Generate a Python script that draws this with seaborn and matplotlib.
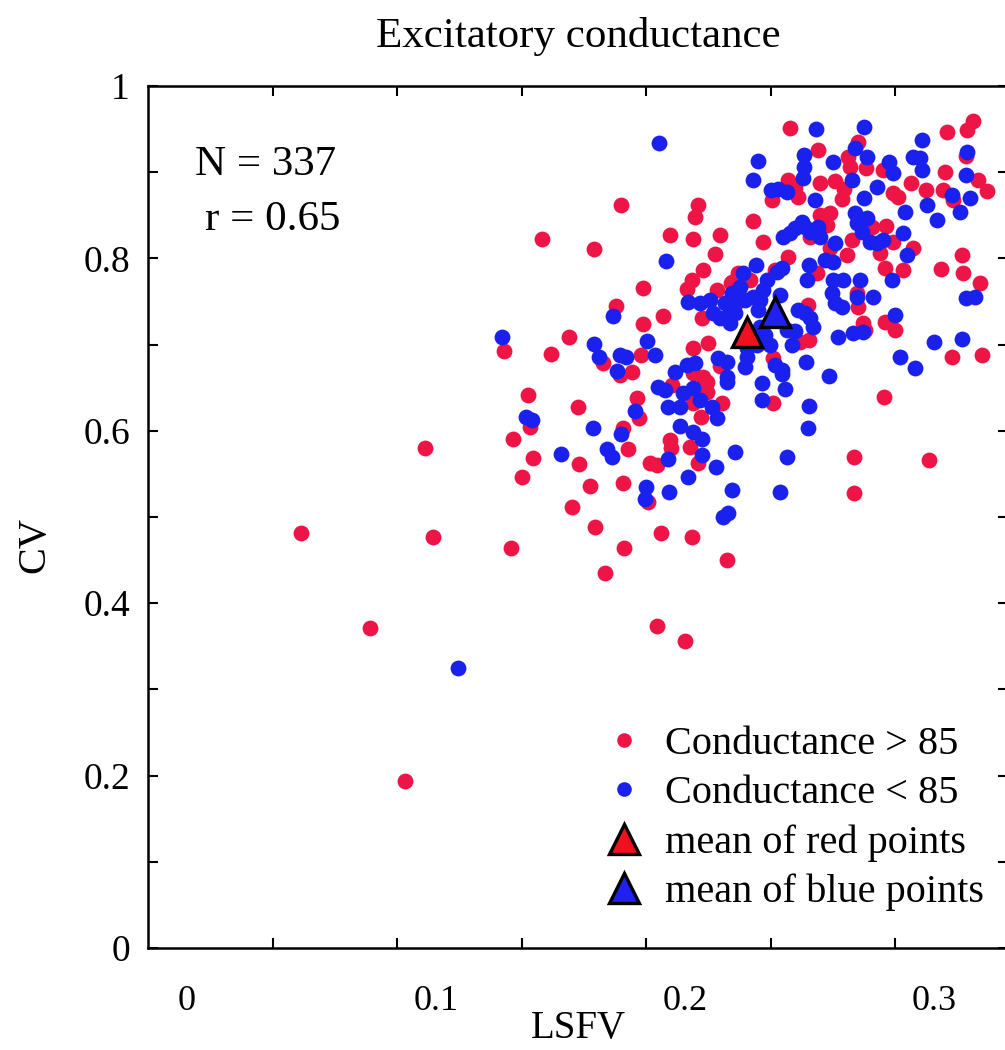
import matplotlib
matplotlib.use("Agg")
import matplotlib.pyplot as plt
from matplotlib.lines import Line2D
import seaborn as sns

# LSFV / CV values for cells with conductance > 85 (red)
red_lsfv = [0.1743, 0.2052, 0.2040, 0.1426, 0.1635, 0.1940, 0.2032, 0.2140, 0.2120, 0.2072,
            0.2028, 0.2008, 0.2129, 0.2185, 0.2213, 0.1831, 0.2068, 0.1723, 0.1831, 0.1912,
            0.1273, 0.1534, 0.1462, 0.1823, 0.2032, 0.2092, 0.1670, 0.1739, 0.1787, 0.2140,
            0.2032, 0.2072, 0.2088, 0.1948, 0.2088, 0.2149, 0.2032, 0.2064, 0.2020, 0.1940,
            0.1944, 0.2052, 0.1859, 0.1888, 0.1807, 0.1815, 0.1370, 0.1570, 0.1378, 0.1751,
            0.1309, 0.1390, 0.1771, 0.1574, 0.1345, 0.1618, 0.1751, 0.1851, 0.1546, 0.1639,
            0.1904, 0.2028, 0.1301, 0.1755, 0.1679, 0.2169, 0.2422, 0.2695, 0.2727, 0.2534,
            0.2655, 0.2414, 0.2442, 0.2349, 0.2454, 0.2542, 0.2602, 0.2639, 0.2631, 0.2663,
            0.2795, 0.2835, 0.2855, 0.2908, 0.2807, 0.2916, 0.2968, 0.3044, 0.3052, 0.3133,
            0.3157, 0.3129, 0.3177, 0.3213, 0.3036, 0.3076, 0.3112, 0.3028, 0.3116, 0.3185,
            0.3072, 0.3193, 0.2273, 0.2313, 0.2502, 0.2542, 0.2582, 0.2570, 0.2751, 0.2671,
            0.2835, 0.2582, 0.2651, 0.2783, 0.2803, 0.2876, 0.2414, 0.2361, 0.2530, 0.2691,
            0.2695, 0.2803, 0.2843, 0.2715, 0.2723, 0.2498, 0.2494, 0.2462, 0.2261, 0.2189,
            0.2209, 0.2353, 0.2353, 0.2799, 0.2679, 0.2980, 0.2679, 0.0956, 0.0458, 0.0988,
            0.0735, 0.0876, 0.1888, 0.2000]
red_cv = [0.862, 0.862, 0.848, 0.8225, 0.811, 0.827, 0.8225, 0.827, 0.805, 0.7865,
          0.775, 0.7645, 0.763, 0.771, 0.783, 0.7657, 0.731, 0.7448, 0.7239, 0.7332,
          0.6926, 0.7088, 0.689, 0.688, 0.696, 0.7019, 0.679, 0.6647, 0.6682, 0.675,
          0.667, 0.6624, 0.6566, 0.6531, 0.645, 0.6323, 0.6323, 0.616, 0.5812, 0.5893,
          0.58, 0.5626, 0.5626, 0.5603, 0.638, 0.6148, 0.6415, 0.6276, 0.6044, 0.6032,
          0.5905, 0.5684, 0.5789, 0.5615, 0.5464, 0.536, 0.5394, 0.5174, 0.5116, 0.4884,
          0.4814, 0.4768, 0.464, 0.464, 0.435, 0.4501, 0.9513, 0.935, 0.9049, 0.9258,
          0.9176, 0.891, 0.8817, 0.8677, 0.8712, 0.8875, 0.8898, 0.8805, 0.8689, 0.906,
          0.9026, 0.8759, 0.8712, 0.8875, 0.8376, 0.8121, 0.8794, 0.9002, 0.9466, 0.949,
          0.9594, 0.9188, 0.891, 0.8782, 0.8794, 0.8677, 0.8039, 0.7877, 0.783, 0.7715,
          0.6856, 0.688, 0.8434, 0.819, 0.8248, 0.8503, 0.8527, 0.8387, 0.8364, 0.8213,
          0.819, 0.8121, 0.8039, 0.8063, 0.7889, 0.7865, 0.8016, 0.7865, 0.783, 0.7599,
          0.7436, 0.7262, 0.7169, 0.7251, 0.7169, 0.7053, 0.7459, 0.703, 0.775, 0.7726,
          0.7494, 0.6845, 0.6323, 0.6392, 0.5696, 0.5661, 0.5278, 0.58, 0.4814, 0.4768,
          0.3712, 0.1937, 0.3735, 0.356]

# conductance < 85 (blue)
blue_lsfv = [0.1896, 0.1924, 0.2012, 0.2060, 0.2100, 0.2112, 0.2140, 0.2180, 0.2173, 0.2209,
             0.1711, 0.1265, 0.1635, 0.1847, 0.1655, 0.1739, 0.1763, 0.1880, 0.2133, 0.1727,
             0.1960, 0.2008, 0.2040, 0.1892, 0.1920, 0.1992, 0.2032, 0.2060, 0.2169, 0.2108,
             0.1932, 0.1980, 0.2129, 0.1980, 0.2032, 0.2068, 0.2068, 0.1932, 0.2124, 0.2201,
             0.1799, 0.1361, 0.1386, 0.1630, 0.1743, 0.1502, 0.1687, 0.1707, 0.1843, 0.1839,
             0.1936, 0.2012, 0.2189, 0.2173, 0.2153, 0.2526, 0.2719, 0.2683, 0.2731, 0.2594,
             0.2478, 0.2478, 0.2474, 0.2293, 0.2273, 0.2345, 0.2373, 0.2410, 0.2522, 0.2671,
             0.2719, 0.2771, 0.2819, 0.2835, 0.2884, 0.2876, 0.2892, 0.2952, 0.2916, 0.2944,
             0.2952, 0.3133, 0.3129, 0.3072, 0.3145, 0.2972, 0.3104, 0.3012, 0.3129, 0.3165,
             0.3000, 0.3112, 0.2394, 0.2422, 0.2442, 0.2470, 0.2482, 0.2502, 0.2534, 0.2542,
             0.2683, 0.2691, 0.2711, 0.2731, 0.2743, 0.2771, 0.2795, 0.2602, 0.2562, 0.2594,
             0.2831, 0.2498, 0.2285, 0.2390, 0.2369, 0.2490, 0.2594, 0.2635, 0.2703, 0.2590,
             0.2602, 0.2631, 0.2691, 0.2755, 0.2843, 0.2675, 0.2715, 0.2614, 0.2454, 0.2482,
             0.2502, 0.2514, 0.2410, 0.2442, 0.2430, 0.2329, 0.2313, 0.2233, 0.2221, 0.2189,
             0.2241, 0.2273, 0.2301, 0.2293, 0.2161, 0.2169, 0.2201, 0.2382, 0.2253, 0.2289,
             0.2341, 0.2301, 0.2321, 0.2249, 0.2249, 0.2241, 0.2361, 0.2390, 0.2169, 0.2169,
             0.2486, 0.2390, 0.2402, 0.2309, 0.2309, 0.2578, 0.2498, 0.2494, 0.2863, 0.2924,
             0.2410, 0.2382, 0.1088]
blue_cv = [0.934, 0.797, 0.7494, 0.748, 0.752, 0.7367, 0.731, 0.725, 0.7494, 0.752,
           0.7332, 0.7088, 0.7007, 0.7042, 0.6856, 0.688, 0.6856, 0.688, 0.6845, 0.6694,
           0.668, 0.6763, 0.6787, 0.6508, 0.6473, 0.6439, 0.6497, 0.6357, 0.6566, 0.6276,
           0.6276, 0.6276, 0.6148, 0.6056, 0.5986, 0.5905, 0.5719, 0.5673, 0.558, 0.5754,
           0.623, 0.616, 0.6125, 0.6032, 0.5963, 0.5731, 0.5789, 0.5696, 0.5348, 0.5209,
           0.529, 0.5464, 0.5313, 0.5046, 0.5, 0.9501, 0.9524, 0.928, 0.9176, 0.9118,
           0.92, 0.906, 0.8933, 0.913, 0.891, 0.8794, 0.8805, 0.877, 0.8677, 0.891,
           0.8701, 0.8828, 0.9118, 0.8991, 0.8538, 0.8295, 0.8039, 0.9374, 0.9176, 0.9165,
           0.9026, 0.9234, 0.8968, 0.8735, 0.8701, 0.8619, 0.8538, 0.8445, 0.754, 0.7552,
           0.703, 0.7065, 0.8248, 0.8295, 0.8353, 0.8422, 0.8364, 0.8306, 0.8364, 0.8248,
           0.8527, 0.8411, 0.8306, 0.8469, 0.819, 0.8178, 0.8213, 0.8178, 0.7981, 0.7958,
           0.775, 0.7923, 0.7923, 0.7889, 0.7842, 0.775, 0.775, 0.775, 0.775, 0.7599,
           0.7483, 0.7436, 0.7552, 0.7552, 0.7343, 0.7135, 0.7146, 0.7088, 0.7401, 0.7367,
           0.7309, 0.7204, 0.7169, 0.7158, 0.6995, 0.775, 0.7633, 0.783, 0.7668, 0.7599,
           0.7517, 0.7552, 0.7517, 0.7401, 0.7483, 0.732, 0.7367, 0.7575, 0.6972, 0.6995,
           0.6995, 0.7204, 0.7111, 0.696, 0.6856, 0.674, 0.6763, 0.6705, 0.6798, 0.6624,
           0.6798, 0.6659, 0.6485, 0.6555, 0.6357, 0.6636, 0.6288, 0.6032, 0.6856, 0.6729,
           0.5696, 0.529, 0.3248]

# group means as shown (triangles)
red_mean = (0.2249, 0.7146)
blue_mean = (0.2361, 0.7378)

x_labels = [0, 0.1, 0.2, 0.3]
x_tick_marks = [0.0345, 0.0845, 0.1345, 0.1845, 0.2345, 0.2845]
y_labels = [0, 0.2, 0.4, 0.6, 0.8, 1.0]
y_tick_marks = [0.1, 0.3, 0.5, 0.7, 0.9]

RED = "#EE1446"
BLUE = "#1A20EE"

sns.set_style("ticks")
plt.rcParams['font.family'] = ['Liberation Serif', 'DejaVu Serif']
for key in ['text.color', 'axes.labelcolor', 'xtick.color', 'ytick.color', 'axes.edgecolor']:
    plt.rcParams[key] = 'black'

fig = plt.figure(figsize=(10.05, 10.5), dpi=100)
ax = fig.add_axes([148 / 1005, 102 / 1050, 860 / 1005, 862 / 1050])

sns.scatterplot(x=red_lsfv, y=red_cv, color=RED, s=130, linewidth=0, ax=ax, zorder=2)
sns.scatterplot(x=blue_lsfv, y=blue_cv, color=BLUE, s=130, linewidth=0, ax=ax, zorder=3)
ax.plot(*red_mean, marker='^', ms=21, mfc='#F01020', mec='black', mew=2.4, ls='none', zorder=4)
ax.plot(*blue_mean, marker='^', ms=21, mfc='#2020F0', mec='black', mew=2.4, ls='none', zorder=4)

ax.set_xlim(-0.0157, 0.3297)
ax.set_ylim(0, 1)

ax.set_xticks(x_labels)
ax.set_xticklabels(['0', '0.1', '0.2', '0.3'])
ax.set_xticks(x_tick_marks, minor=True)
ax.set_yticks(y_labels)
ax.set_yticklabels(['0', '0.2', '0.4', '0.6', '0.8', '1'])
ax.set_yticks(y_tick_marks, minor=True)

ax.tick_params(axis='x', which='major', length=0, pad=27, labelsize=26)
ax.tick_params(axis='x', which='minor', direction='in', length=7, width=1.5,
               top=True, bottom=True)
ax.tick_params(axis='y', which='both', direction='in', length=7, width=1.5,
               left=True, right=True, pad=13, labelsize=27)

for sp in ax.spines.values():
    sp.set_linewidth(1.8)

ax.set_title('Excitatory conductance', fontsize=31, pad=28)
ax.set_xlabel('LSFV', fontsize=28, va='center')
ax.xaxis.set_label_coords(0.5, -0.093)
ax.set_ylabel('CV', fontsize=29, va='center')
ax.yaxis.set_label_coords(-0.131, 0.4675)

ax.text(0.055, 0.897, 'N = 337', transform=ax.transAxes, fontsize=31, va='baseline')
ax.text(0.066, 0.833, 'r = 0.65', transform=ax.transAxes, fontsize=31, va='baseline')

handles = [
    Line2D([], [], marker='o', ls='none', ms=10.5, mfc=RED, mec='none'),
    Line2D([], [], marker='o', ls='none', ms=10.5, mfc=BLUE, mec='none'),
    Line2D([], [], marker='^', ls='none', ms=21, mfc='#F01020', mec='black', mew=2.4),
    Line2D([], [], marker='^', ls='none', ms=21, mfc='#2020F0', mec='black', mew=2.4),
]
labels = ['Conductance > 85', 'Conductance < 85', 'mean of red points', 'mean of blue points']
ax.legend(handles, labels, loc='upper left', bbox_to_anchor=(0.525, 0.258), frameon=False,
          fontsize=29, handlelength=1.2, handletextpad=0.42, labelspacing=0.3,
          borderaxespad=0, borderpad=0)

fig.savefig('out.png', dpi=100)
